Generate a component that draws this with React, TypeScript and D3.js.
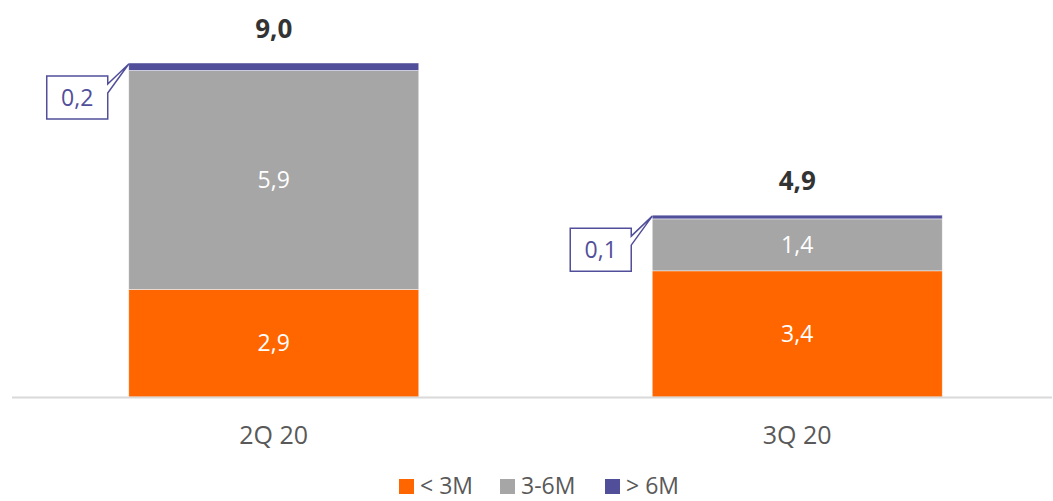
import React from 'react';
import * as d3 from 'd3';

const categories = ['2Q 20', '3Q 20'];
const under3M = [2.9, 3.4];
const from3to6M = [5.9, 1.4];
const over6M = [0.2, 0.1];
const seriesNames = ['< 3M', '3-6M', '> 6M'];
const seriesColors = ['#FF6600', '#A6A6A6', '#524F9A'];

const W = 1053;
const H = 501;
const FONT = '"Open Sans", "Noto Sans", sans-serif';

const fmt = (v: number) => d3.format('.1f')(v).replace('.', ',');

const App: React.FC = () => {
    const rows = categories.map((c, i) => ({
        cat: c,
        s0: under3M[i],
        s1: from3to6M[i],
        s2: over6M[i],
    }));
    const stacked = d3.stack<any>().keys(['s0', 's1', 's2'])(rows);
    const totals = rows.map(r => r.s0 + r.s1 + r.s2);

    const x = d3.scaleBand<string>()
        .domain(categories)
        .range([12, 1059])
        .paddingInner(0.446)
        .paddingOuter(0.223);
    const y = d3.scaleLinear().domain([0, 9]).range([397, 63]);
    const bw = x.bandwidth();

    // callout with a wedge pointing at the bar's top-left corner
    const callout = (cat: string, i: number) => {
        const left = x(cat)!;
        const top = y(totals[i]);
        const bx1 = left - 21, bx0 = bx1 - 61;
        const by0 = top + 13, by1 = by0 + 43;
        const p = d3.path();
        p.moveTo(bx0, by0);
        p.lineTo(bx1, by0);
        p.lineTo(bx1, by0 + 8);
        p.lineTo(left, top + 1);
        p.lineTo(bx1, by0 + 17);
        p.lineTo(bx1, by1);
        p.lineTo(bx0, by1);
        p.closePath();
        return (
            <g key={'c' + cat}>
                <path d={p.toString()} fill="#fff" stroke={seriesColors[2]} strokeWidth={1.5} />
                <text x={(bx0 + bx1) / 2} y={(by0 + by1) / 2} dy="0.36em" textAnchor="middle"
                    fill={seriesColors[2]} fontSize={23}>{fmt(over6M[i])}</text>
            </g>
        );
    };

    const legendX = [399, 500, 605];

    return (
        <svg width={W} height={H} style={{ position: 'absolute', left: 0, top: 0, fontFamily: FONT }}>
            <rect width={W} height={H} fill="#fff" />
            {stacked.map((layer, li) => (
                <g key={layer.key} fill={seriesColors[li]}>
                    {layer.map((d, i) => (
                        <rect key={i} x={x(categories[i])} y={y(d[1])} width={bw}
                            height={y(d[0]) - y(d[1])} stroke="#fff" strokeOpacity={0.6} strokeWidth={0.75} />
                    ))}
                </g>
            ))}
            {stacked.slice(0, 2).map((layer) => layer.map((d, i) => (
                <text key={layer.key + i} x={x(categories[i])! + bw / 2} y={(y(d[0]) + y(d[1])) / 2}
                    dy="0.36em" textAnchor="middle" fill="#fff" fontSize={23}>
                    {fmt(d[1] - d[0])}
                </text>
            )))}
            {categories.map((c, i) => (
                <text key={'t' + c} x={x(c)! + bw / 2} y={y(totals[i]) - 25} textAnchor="middle"
                    fill="#333" fontSize={26} fontWeight="bold">{fmt(totals[i])}</text>
            ))}
            {categories.map((c, i) => callout(c, i))}
            <line x1={12} x2={1052} y1={397.5} y2={397.5} stroke="#D9D9D9" strokeWidth={2} />
            {categories.map(c => (
                <text key={'x' + c} x={x(c)! + bw / 2} y={444} textAnchor="middle"
                    fill="#595959" fontSize={25}>{c}</text>
            ))}
            {seriesNames.map((n, i) => (
                <g key={n} transform={`translate(${legendX[i]},479)`}>
                    <rect width={15} height={15} fill={seriesColors[i]} />
                    <text x={21} y={15} fill="#595959" fontSize={23}>{n}</text>
                </g>
            ))}
        </svg>
    );
};

export default App;
